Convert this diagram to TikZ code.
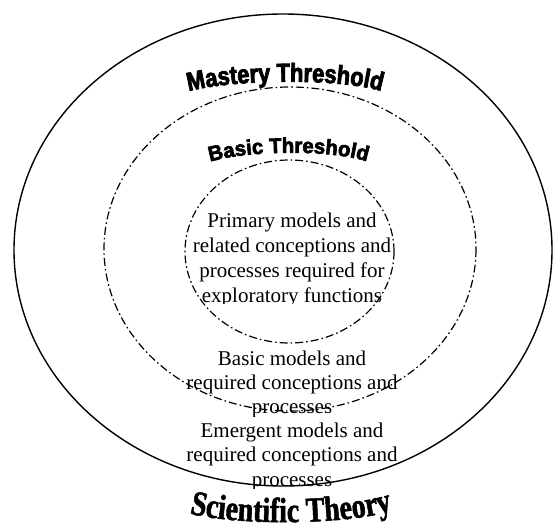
\documentclass[tikz,border=0pt]{standalone}
\usepackage{fontspec}
\setmainfont{Liberation Serif}
\newfontfamily\mastfont[FakeStretch=0.84,FakeBold=3]{Liberation Sans}
\newfontfamily\basfont[FakeStretch=0.97,FakeBold=3]{Liberation Sans}
\newfontfamily\scifont[FakeStretch=0.8,FakeBold=1.5]{Liberation Serif}
\usetikzlibrary{decorations.text}
\tikzset{
  body/.style={font=\fontsize{21}{25}\selectfont, anchor=base, inner sep=0pt},
  outerring/.style={line width=1.4pt},
  threshring/.style={line width=1.2pt, dash pattern=on 8pt off 3pt on 1.6pt off 3pt},
}
\begin{document}
\begin{tikzpicture}[x=1pt,y=-1pt]
\useasboundingbox (0,0) rectangle (553,527);
% rings
\draw[outerring] (283,250) ellipse [x radius=269, y radius=236];
\draw[threshring] (290,249) ellipse [x radius=186, y radius=162];
\draw[threshring] (289.5,251.5) ellipse [x radius=104.5, y radius=91.5];
% arched titles
\path[decorate, decoration={text along path, text align=center,
  text={|\mastfont\bfseries\fontsize{26}{26}\selectfont|Mastery Threshold}}]
  (183,93) .. controls (224,79) and (346,77) .. (387,93);
\path[decorate, decoration={text along path, text align=center,
  text={|\basfont\bfseries\fontsize{21}{21}\selectfont|Basic Threshold}}]
  (203,164) .. controls (240,150) and (336,148) .. (374,164);
\path[decorate, decoration={text along path, text align=center,
  text={|\scifont\bfseries\fontsize{35}{35}\selectfont|Scientific Theory}}]
  (184,512) .. controls (230,526) and (350,526) .. (398,509);
% primary
\node[body] (p1) at (292,227) {Primary models and};
\node[body] (p2) at (292,252) {related conceptions and};
\node[body] (p3) at (292,277) {processes required for};
\begin{scope}
\clip (150,280) rectangle (430,303.5);
\node[body] (p4) at (292,302) {exploratory functions};
\end{scope}
% basic
\node[body] (b1) at (292,365) {Basic models and};
\node[body] (b2) at (292,389) {required conceptions and};
\begin{scope}
\clip (150,395) rectangle (430,416);
\node[body] (b3) at (292,413) {processes};
\end{scope}
% emergent
\node[body] (e1) at (292,437) {Emergent models and};
\node[body] (e2) at (292,461) {required conceptions and};
\begin{scope}
\clip (150,468) rectangle (430,488);
\node[body] (e3) at (292,486) {processes};
\end{scope}
\end{tikzpicture}
\end{document}
